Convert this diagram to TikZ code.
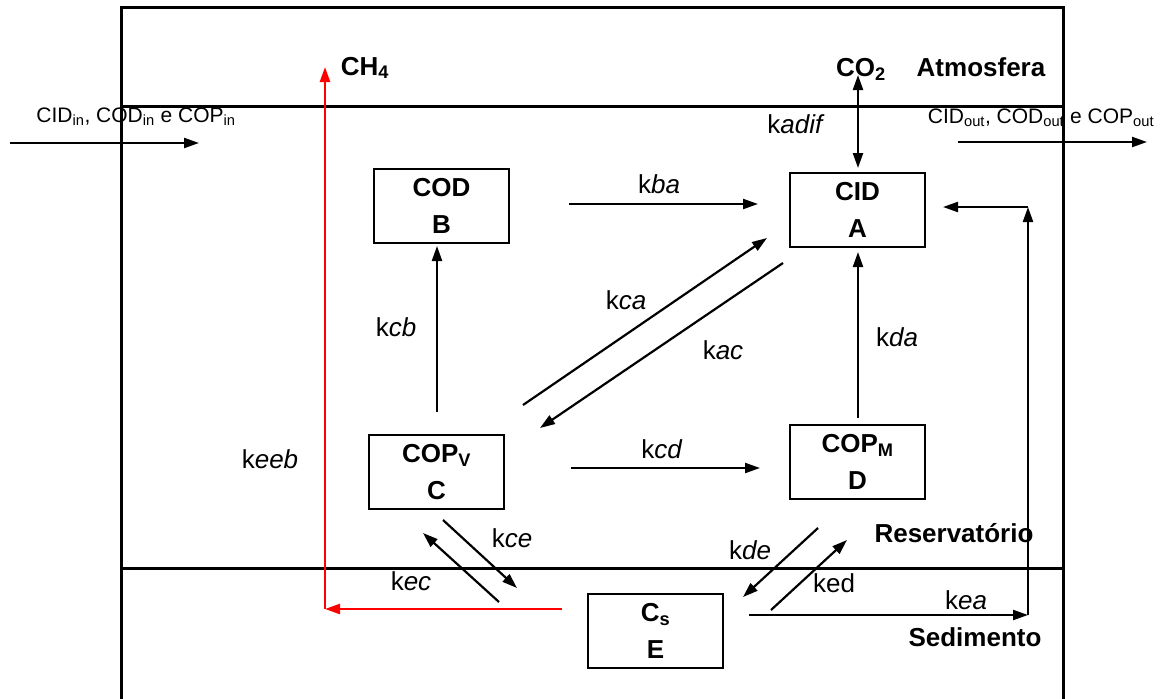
\documentclass[tikz,border=0pt]{standalone}
\usepackage{fontspec}
\setmainfont{Liberation Sans}
\usetikzlibrary{arrows.meta}
\begin{document}
\begin{tikzpicture}[x=1pt,y=-1pt,
  frame/.style={line width=3pt},
  box/.style={draw, line width=1.6pt, minimum width=135pt, minimum height=74pt, inner sep=0pt, align=center, font=\bfseries\fontsize{26}{37}\selectfont},
  tip/.tip={Triangle[length=15pt,width=10pt]},
  flow/.style={line width=2.2pt, -tip},
  redflow/.style={flow, red},
  lbl/.style={font=\fontsize{26}{30}\selectfont, inner sep=0pt, anchor=base},
  blbl/.style={font=\bfseries\fontsize{26}{30}\selectfont, inner sep=0pt, anchor=base},
  io/.style={font=\fontsize{21}{25}\selectfont, inner sep=0pt, anchor=base}
]
\useasboundingbox (0,0) rectangle (1165,699);

% frame and compartment boundaries
\draw[frame] (121,699) -- (121,7) -- (1063,7) -- (1063,699);
\draw[frame] (121,106) -- (1063,106);
\draw[frame] (121,568) -- (1063,568);

% boxes
\node[box] (B) at (441.5,206) {COD\\B};
\node[box] (A) at (857.5,210) {CID\\A};
\node[box] (C) at (436.5,472) {COP\textsubscript{V}\\C};
\node[box] (D) at (857.5,462) {COP\textsubscript{M}\\D};
\node[box] (E) at (655.5,631) {C\textsubscript{s}\\E};

% compartment labels
\node[blbl] (atm) at (981,76) {Atmosfera};
\node[blbl] (res) at (954,542) {Reservatório};
\node[blbl] (sed) at (975,646) {Sedimento};
\node[blbl] (co2) at (861,76) {CO\textsubscript{2}};
\node[blbl] (ch4) at (365,75) {CH\textsubscript{4}};

% inflow / outflow
\coordinate (in1) at (10,143); \coordinate (in2) at (199,143);
\draw[flow] (in1) -- (in2);
\node[io] (inl) at (136,122) {CID\textsubscript{in}, COD\textsubscript{in} e COP\textsubscript{in}};
\coordinate (out1) at (958,142); \coordinate (out2) at (1147,142);
\draw[flow] (out1) -- (out2);
\node[io] (outl) at (1041,123) {CID\textsubscript{out}, COD\textsubscript{out} e COP\textsubscript{out}};

% CO2 exchange
\coordinate (adif1) at (858,75); \coordinate (adif2) at (858,168);
\draw[line width=2.2pt, tip-tip] (adif1) -- (adif2);
\node[lbl] (kadif) at (796,133) {k\textit{adif}};

% B -> A
\coordinate (ba1) at (569,204); \coordinate (ba2) at (758,204);
\draw[flow] (ba1) -- (ba2);
\node[lbl] (kba) at (659,193) {k\textit{ba}};

% C -> B
\coordinate (cb1) at (437,412); \coordinate (cb2) at (437,246);
\draw[flow] (cb1) -- (cb2);
\node[lbl] (kcb) at (396,336) {k\textit{cb}};

% C -> A and A -> C
\coordinate (ca1) at (523,405); \coordinate (ca2) at (767,238);
\draw[flow] (ca1) -- (ca2);
\node[lbl] (kca) at (626,309) {k\textit{ca}};
\coordinate (ac1) at (783,263); \coordinate (ac2) at (540,428);
\draw[flow] (ac1) -- (ac2);
\node[lbl] (kac) at (723,359) {k\textit{ac}};

% D -> A
\coordinate (da1) at (858,418); \coordinate (da2) at (858,252);
\draw[flow] (da1) -- (da2);
\node[lbl] (kda) at (897,346) {k\textit{da}};

% C -> D
\coordinate (cd1) at (571,468); \coordinate (cd2) at (760,468);
\draw[flow] (cd1) -- (cd2);
\node[lbl] (kcd) at (662,458) {k\textit{cd}};

% C <-> E
\coordinate (ce1) at (443,520); \coordinate (ce2) at (517,588);
\draw[flow] (ce1) -- (ce2);
\node[lbl] (kce) at (512,547) {k\textit{ce}};
\coordinate (ec1) at (499,602); \coordinate (ec2) at (423,533);
\draw[flow] (ec1) -- (ec2);
\node[lbl] (kec) at (411,590) {k\textit{ec}};

% D <-> E
\coordinate (de1) at (818,528); \coordinate (de2) at (743,597);
\draw[flow] (de1) -- (de2);
\node[lbl] (kde) at (750,559) {k\textit{de}};
\coordinate (ed1) at (771,610); \coordinate (ed2) at (847,540);
\draw[flow] (ed1) -- (ed2);
\node[lbl] (ked) at (834,592) {ked};

% E -> A
\coordinate (ea1) at (749,615); \coordinate (ea2) at (1028,615);
\coordinate (ea3) at (1028,207); \coordinate (ea4) at (943,207);
\draw[flow] (ea1) -- (ea2);
\draw[flow] (ea2) -- (ea3);
\draw[flow] (ea3) -- (ea4);
\node[lbl] (kea) at (966,609) {k\textit{ea}};

% methane (red)
\coordinate (eb1) at (562,609); \coordinate (eb2) at (325,609); \coordinate (eb3) at (325,67);
\draw[redflow, line width=2.5pt] (eb1) -- (eb2);
\draw[redflow, line width=2.5pt] (eb2) -- (eb3);
\node[lbl] (keeb) at (270,468) {k\textit{eeb}};
\end{tikzpicture}
\end{document}
